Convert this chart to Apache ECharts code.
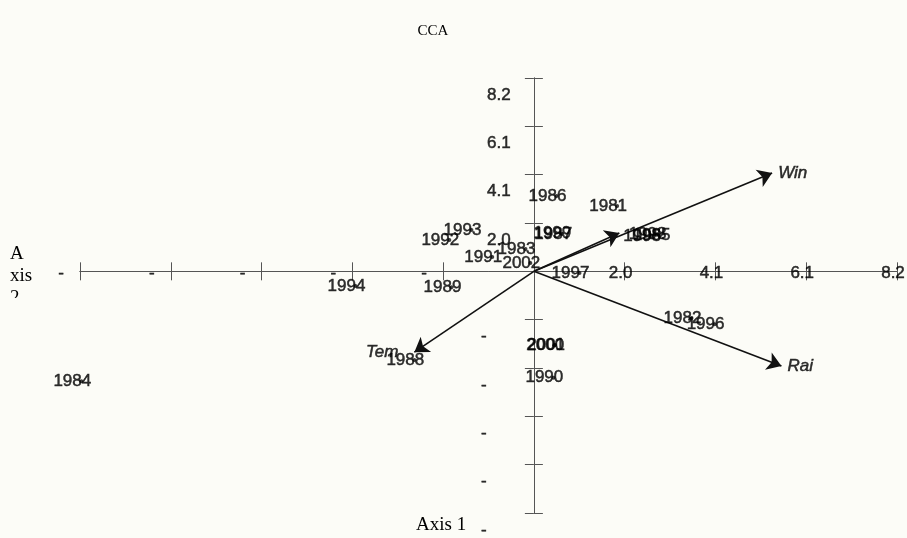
<!DOCTYPE html>
<html>
<head>
<meta charset="utf-8">
<script src="https://cdn.jsdelivr.net/npm/echarts@6/dist/echarts.min.js"></script>
<style>
  html, body { margin: 0; padding: 0; background: #fcfcf7; }
  #chart { width: 907px; height: 538px; }
</style>
</head>
<body>
<div id="chart"></div>
<script>
// Site (year) scores on CCA axes 1 and 2
const years = ['1981','1982','1983','1984','1985','1986','1987','1988','1989','1990','1991',
               '1992','1993','1994','1995','1996','1997','1998','1999','2000','2001','2002'];
const axis1Scores = [1.88, 3.56, -0.19, -10.22, 2.86, 0.51, 0.64, -2.70, -1.86, 0.44, -0.94,
                     -1.91, -1.41, -4.03, 2.65, 4.08, 1.03, 2.77, 0.62, 0.46, 0.48, -0.08];
const axis2Scores = [2.77, -1.98, 0.95, -4.66, 1.54, 3.20, 1.58, -3.76, -0.67, -4.51, 0.61,
                     1.33, 1.75, -0.62, 1.50, -2.24, -0.07, 1.55, 1.60, -3.13, -3.12, 0.35];

// Environmental variable vectors (biplot arrows)
const vectorNames = ['Win', 'Rai', 'Tem', ''];
const vectorAxis1 = [5.38, 5.59, -2.70, 1.93];
const vectorAxis2 = [4.17, -4.02, -3.43, 1.63];
const vectorLabelSide = ['right', 'right', 'left', 'right'];

// Axis scale and tick labels (same on both axes)
const axisMin = -10.25;
const axisMax = 8.2;
const axisStep = 2.05;
const tickText = ['-', '-', '-', '-', '-', '', '2.0', '4.1', '6.1', '8.2'];

const ink = '#000';
const sans = 'Liberation Sans, Arial, sans-serif';
const serif = 'Liberation Serif, Times New Roman, serif';
const bg = '#fcfcf7';

const textBase = { fontFamily: sans, fontSize: 17, color: ink,
                   textBorderColor: ink, textBorderWidth: 0.5 };

const lineStyle = { color: '#555', width: 1 };

// Both axes cross at zero; a mirrored pair gives ticks on both sides of each line.
function makeXAxis(primary) {
  return {
    type: 'value', min: axisMin, max: axisMax, interval: axisStep,
    position: primary ? 'bottom' : 'top',
    splitLine: { show: false },
    axisLine: { show: true, onZero: true, onZeroAxisIndex: 0, lineStyle: lineStyle },
    axisTick: { show: true, length: 9, lineStyle: lineStyle },
    axisLabel: { show: false }
  };
}
function makeYAxis(primary) {
  return {
    type: 'value', min: axisMin, max: axisMax, interval: axisStep,
    position: primary ? 'left' : 'right',
    splitLine: { show: false },
    axisLine: { show: true, onZero: true, onZeroAxisIndex: 0, lineStyle: lineStyle },
    axisTick: { show: true, length: 9, lineStyle: lineStyle },
    axisLabel: { show: false }
  };
}

// Tick labels sit along the zero lines (positions are pixel offsets from each tick)
const xTickData = [];
const yTickData = [];
tickText.forEach((t, i) => {
  if (!t) return;
  const v = axisMin + i * axisStep;
  const neg = t === '-';
  xTickData.push({ name: t, value: [v, 0],
    label: { position: [neg ? -19 : -4, 2] } });
  yTickData.push({ name: t, value: [0, v],
    label: { position: [neg ? -50 : -35, 17] } });
});

const siteData = years.map((y, i) => ({ name: y, value: [axis1Scores[i], axis2Scores[i]] }));
const arrowData = vectorNames.map((n, i) => ({ coords: [[0, 0], [vectorAxis1[i], vectorAxis2[i]]] }));
const tipData = vectorNames.map((n, i) => ({
  name: n,
  value: [vectorAxis1[i], vectorAxis2[i]],
  label: { position: vectorLabelSide[i], distance: vectorLabelSide[i] === 'left' ? 16 : 6 }
}));

const tickLabelSeries = (data) => ({
  type: 'scatter', xAxisIndex: 0, yAxisIndex: 0,
  symbolSize: 0, silent: true, z: 2,
  label: Object.assign({ show: true, formatter: '{b}', align: 'center',
                         verticalAlign: 'middle' }, textBase),
  data: data
});

const chart = echarts.init(document.getElementById('chart'), null, { renderer: 'canvas' });
chart.setOption({
  backgroundColor: bg,
  animation: false,
  title: {
    text: 'CCA', left: 428, top: 19, textAlign: 'center',
    textStyle: { fontFamily: serif, fontSize: 15, fontWeight: 'normal', color: ink }
  },
  grid: { left: 80, right: 10, top: 78, bottom: 25, containLabel: false, outerBoundsMode: 'none' },
  xAxis: [makeXAxis(true), makeXAxis(false)],
  yAxis: [makeYAxis(true), makeYAxis(false)],
  graphic: [
    { type: 'text', left: 416, top: 516, z: 10,
      style: { text: 'Axis 1', font: '19px ' + serif, fill: ink } },
    { type: 'text', left: 10, top: 243, z: 10,
      style: { text: 'A\nxis\n2', font: '19px ' + serif, fill: ink, lineHeight: 22 } },
    { type: 'rect', left: 0, top: 298, z: 11,
      shape: { width: 45, height: 22 }, style: { fill: bg } }
  ],
  series: [
    tickLabelSeries(xTickData),
    tickLabelSeries(yTickData),
    {
      type: 'lines', coordinateSystem: 'cartesian2d', xAxisIndex: 0, yAxisIndex: 0,
      symbol: ['none', 'arrow'], symbolSize: [8, 14],
      lineStyle: { color: '#111', width: 1.6, opacity: 1 },
      data: arrowData, z: 3
    },
    {
      type: 'scatter', xAxisIndex: 0, yAxisIndex: 0,
      symbol: 'circle', symbolSize: 0, silent: true,
      label: Object.assign({ show: true, formatter: '{b}', fontStyle: 'italic' }, textBase),
      data: tipData, z: 4
    },
    {
      type: 'scatter', xAxisIndex: 0, yAxisIndex: 0,
      symbol: 'circle', symbolSize: 4,
      itemStyle: { color: '#111' },
      label: Object.assign({ show: true, formatter: '{b}', position: 'inside',
                             padding: [0, 18, 0, 0] }, textBase),
      data: siteData, z: 5
    }
  ]
});
</script>
</body>
</html>
